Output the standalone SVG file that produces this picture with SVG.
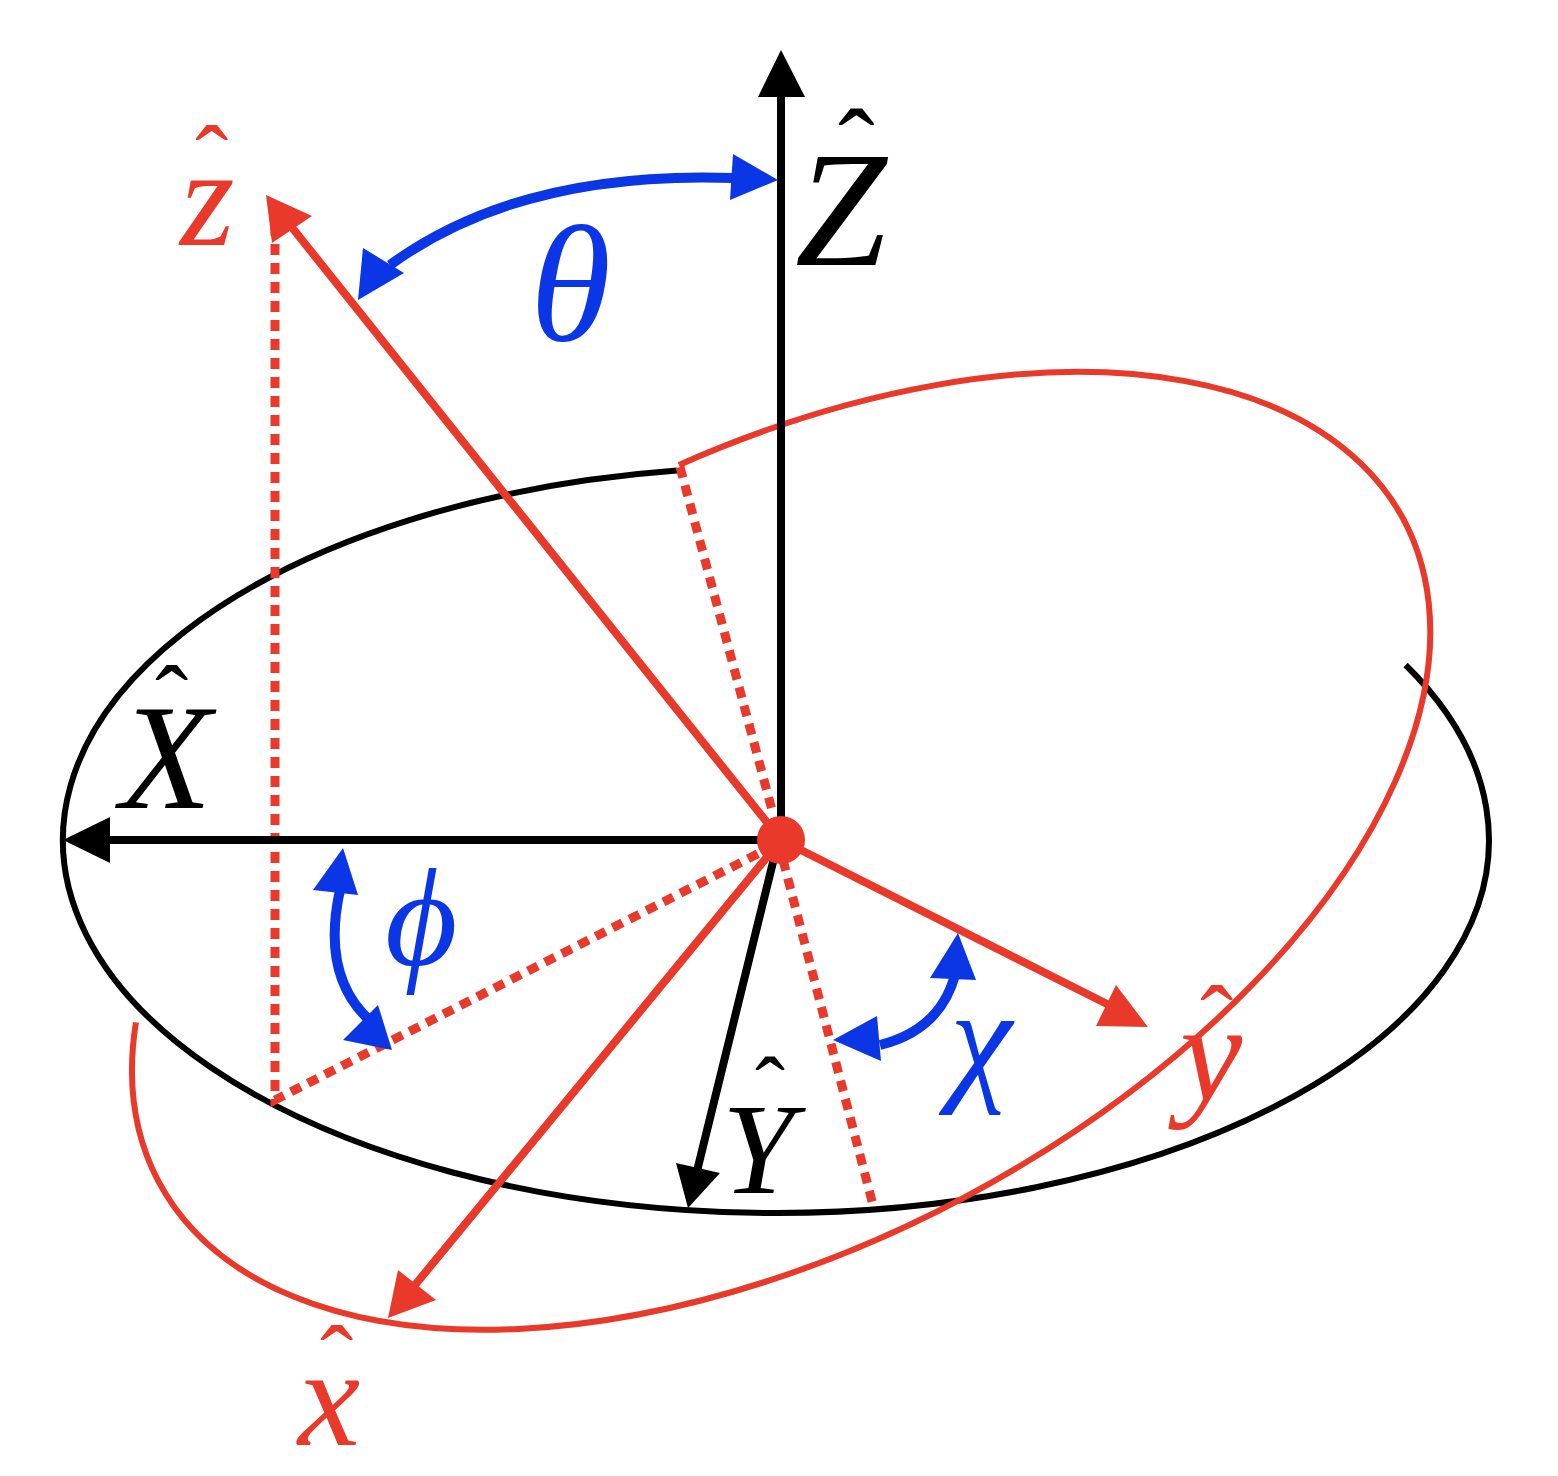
<svg xmlns="http://www.w3.org/2000/svg" width="1558" height="1476" viewBox="0 0 1558 1476">
<style>
.k{fill:none;stroke:#000;stroke-width:6}
.r{fill:none;stroke:#e8392a;stroke-width:6}
.ka{stroke:#000;stroke-width:8;fill:none}
.ra{stroke:#e8392a;stroke-width:8;fill:none}
.d{stroke:#e8392a;stroke-width:9;fill:none;stroke-dasharray:11 8}
.b{stroke:#0b36e6;stroke-width:10;fill:none}
.t{font-family:"Liberation Serif",serif;font-style:italic}
</style>
<rect width="1558" height="1476" fill="#fff"/>
<g id="ellipses">
<path class="k" d="M1405.6 665 A713 373 0 1 1 677 470.6"/>
<path class="r" d="M679 464.9 A705 392 -28 1 1 135.9 1022.4"/>
</g>
<g id="connectors">
<path class="d" d="M275 225V1100L775 845M680 467L772 810M783 860L873 1205"/>
<path class="ka" d="M781 840V95M781 840H110M776 850L696 1175"/>
<polygon points="781,50 758,97 805,97"/>
<polygon points="63,840 110,817 110,863"/>
<polygon points="688,1208 676,1163 720,1173"/>
<path class="ra" d="M781 840L290 225M781 840L415 1285M781 840L1115 1008"/>
<polygon fill="#e8392a" points="266,195 272,243 312,216"/>
<polygon fill="#e8392a" points="388,1318 398,1270 436,1300"/>
<polygon fill="#e8392a" points="1148,1027 1116,985 1096,1026"/>
<circle cx="781" cy="840" r="24" fill="#e8392a"/>
<path class="b" d="M390 265Q520 170 735 178M340 890Q320 980 375 1025M880 1045Q940 1030 955 975"/>
<g fill="#0b36e6">
<polygon points="778,180 733,154 730,200"/>
<polygon points="358,300 363,248 404,273"/>
<polygon points="343,848 313,890 358,895"/>
<polygon points="392,1050 343,1040 378,1005"/>
<polygon points="833,1040 877,1016 881,1061"/>
<polygon points="958,933 930,978 976,980"/>
</g>
</g>
<g id="labels" class="t">
<text x="795" y="265" font-size="165">Z</text><text x="838" y="185" font-size="110" font-style="normal">ˆ</text>
<text x="120" y="808" font-size="150">X</text><text x="155" y="735" font-size="100" font-style="normal">ˆ</text>
<text x="722" y="1193" font-size="130">Y</text><text x="755" y="1120" font-size="90" font-style="normal">ˆ</text>
<text x="180" y="245" font-size="140" fill="#e8392a">z</text><text x="195" y="195" font-size="100" font-style="normal" fill="#e8392a">ˆ</text>
<text x="298" y="1445" font-size="140" fill="#e8392a">x</text><text x="320" y="1395" font-size="100" font-style="normal" fill="#e8392a">ˆ</text>
<text x="1180" y="1100" font-size="140" fill="#e8392a">y</text><text x="1200" y="1055" font-size="100" font-style="normal" fill="#e8392a">ˆ</text>
<text x="530" y="340" font-size="165" fill="#0b36e6">θ</text>
<text x="385" y="965" font-size="140" fill="#0b36e6">ϕ</text>
<text x="950" y="1085" font-size="140" fill="#0b36e6">χ</text>
</g>
</svg>
